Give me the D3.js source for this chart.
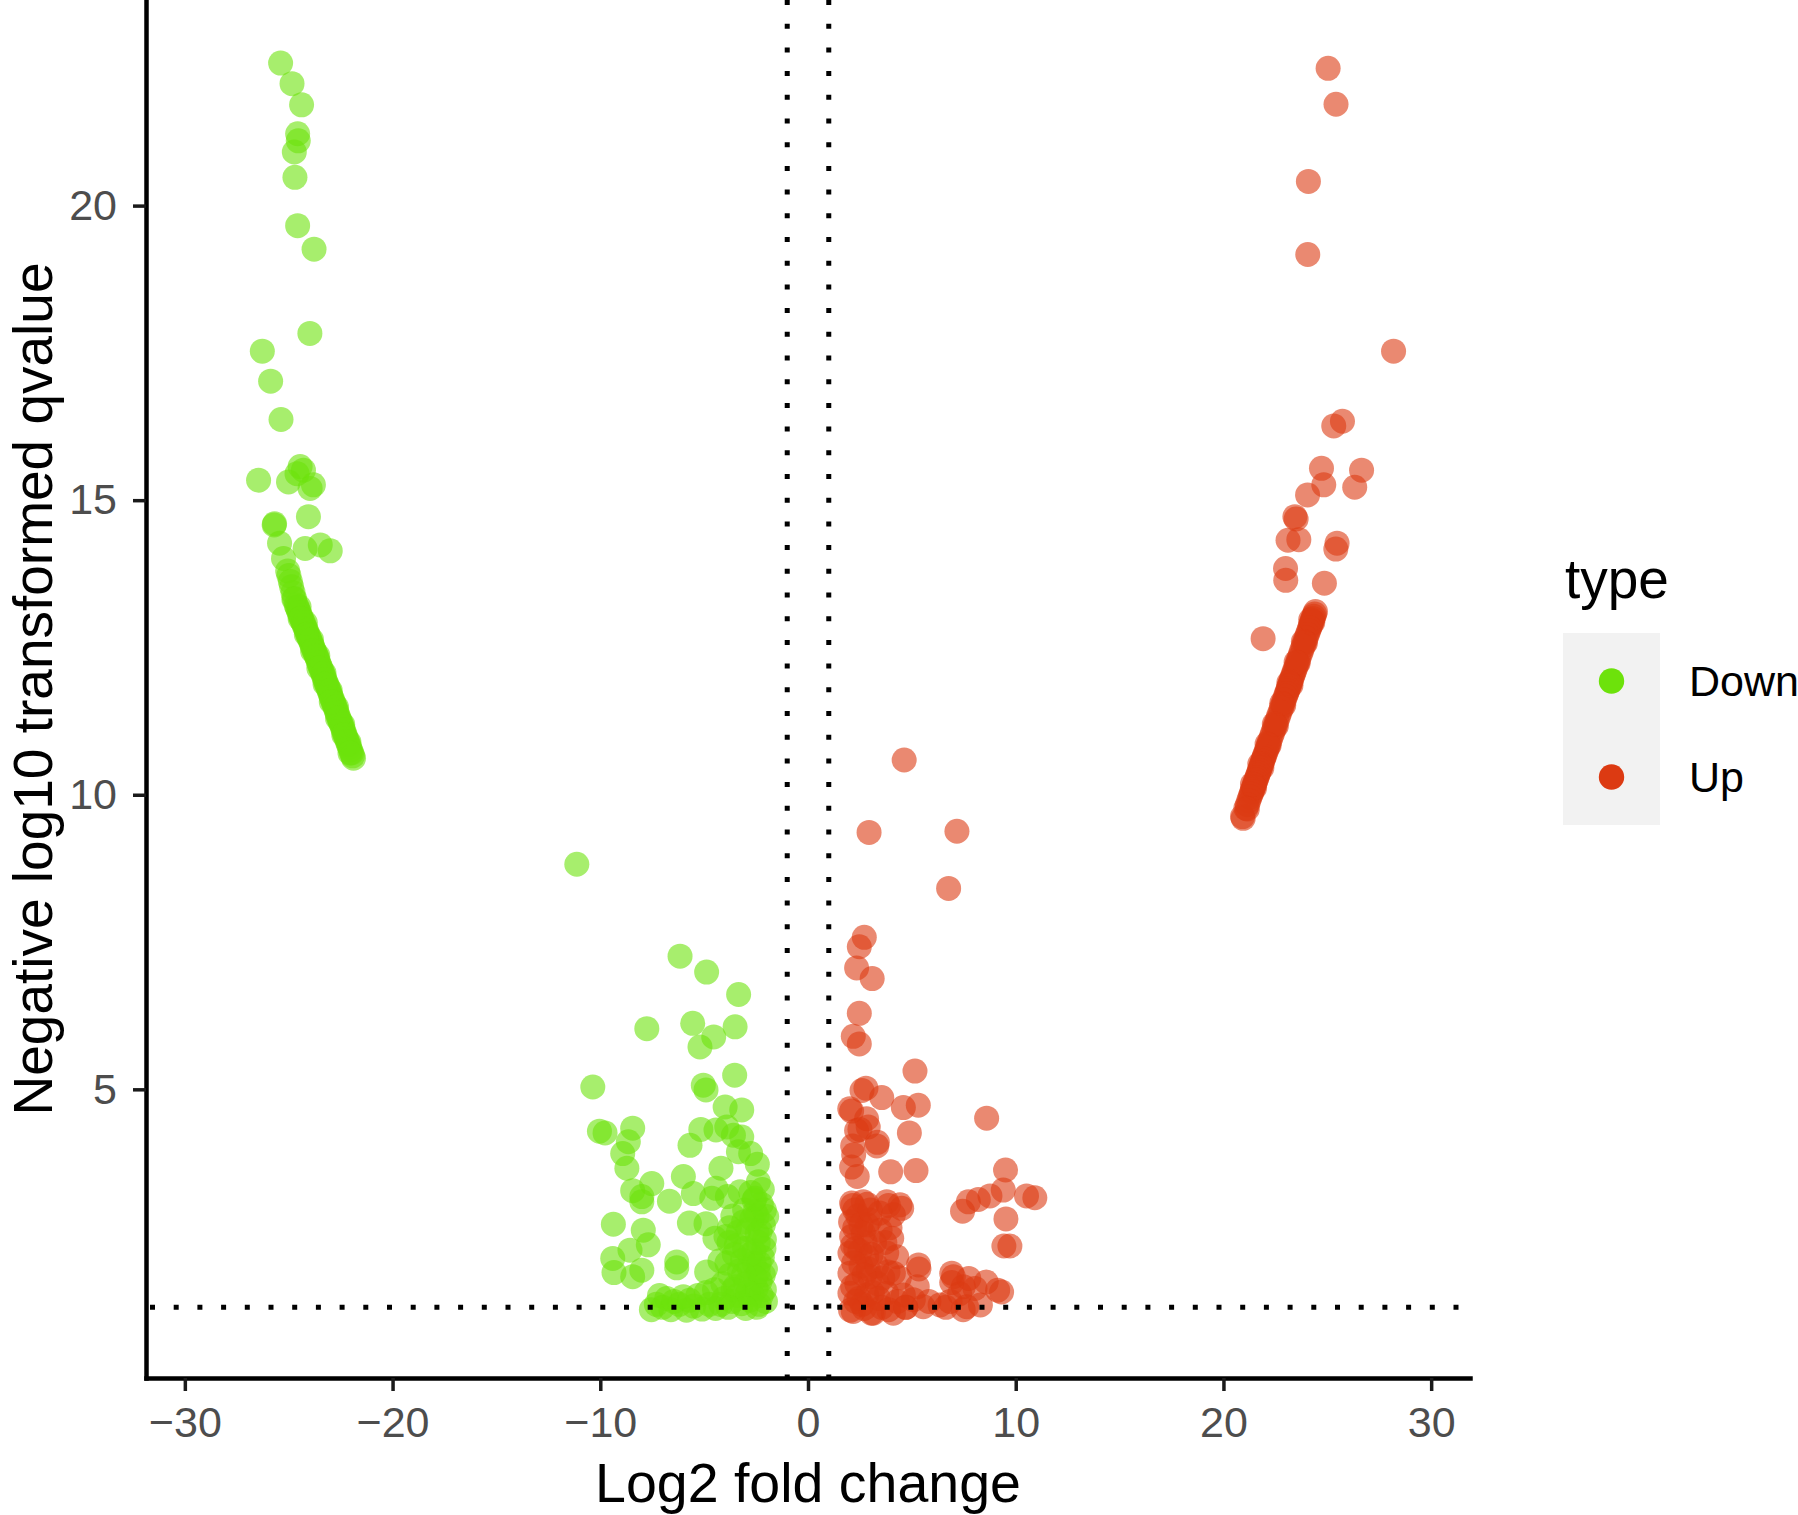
<!DOCTYPE html>
<html>
<head>
<meta charset="utf-8">
<script src="https://cdn.jsdelivr.net/npm/d3@7"></script>
<style>
  body { margin: 0; background: #fff; }
  text { font-family: "Liberation Sans", Arial, sans-serif; }
</style>
</head>
<body>
<script>
// log2 fold change / -log10 qvalue
var downScatter = [
  [-25.39,22.42],[-24.84,22.07],[-24.38,21.71],[-24.57,21.22],[-24.54,21.10],[-24.73,20.91],[-24.70,20.48],
  [-24.57,19.66],[-23.78,19.26],[-23.98,17.83],[-26.27,17.53],[-25.87,17.02],[-25.37,16.37],
  [-26.45,15.34],[-25.01,15.31],[-24.45,15.57],[-24.29,15.51],[-24.60,15.45],[-23.81,15.26],[-23.97,15.20],
  [-24.05,14.72],[-25.70,14.58],[-25.68,14.60],[-25.44,14.27],[-24.21,14.18],[-23.48,14.24],[-23.00,14.14],[-25.25,14.01],
  [-11.13,8.82],[-6.16,7.26],[-4.88,6.99],[-3.34,6.61],[-7.76,6.03],[-5.55,6.12],[-4.54,5.89],[-5.20,5.72],
  [-3.51,6.06],[-3.53,5.24],[-10.36,5.04],[-5.04,5.07],[-4.91,4.99],[-3.99,4.70],[-3.19,4.65],[-10.04,4.29],
  [-9.77,4.26],[-8.44,4.34],[-8.65,4.11],[-8.92,3.91],[-8.72,3.66],[-5.68,4.05],[-5.16,4.32],[-4.43,4.31],
  [-3.91,4.36],[-3.59,4.22],[-3.19,4.19],[-3.35,3.94],[-2.76,3.91],[-2.44,3.73],[-4.19,3.66],[-6.00,3.52],
  [-2.39,3.43],[-7.52,3.40],[-8.44,3.28],[-8.00,3.18],[-8.00,3.09],[-6.67,3.10],[-5.52,3.23],[-4.43,3.32],
  [-4.63,3.15],[-3.88,3.18],[-3.27,3.26],[-2.60,3.12],[-1.99,2.84],[-9.37,2.71],[-5.71,2.73],[-4.91,2.72],
  [-4.48,2.47],[-7.93,2.61],[-7.69,2.36],[-8.57,2.27],[-9.40,2.13],[-9.34,1.89],[-8.44,1.82],[-8.00,1.93],
  [-6.32,2.07],[-6.32,1.97],[-4.88,1.90],[-4.24,2.09],
  [-3.62,2.85],[-3.05,2.95],[-2.55,2.92],[-2.15,2.70],[-2.10,2.45],[-2.45,2.55],[-2.90,2.62],[-3.35,2.58],
  [-3.80,2.40],[-3.55,2.20],[-3.05,2.30],[-2.60,2.25],[-2.20,2.15],[-2.05,1.95],[-2.40,1.90],[-2.85,1.98],
  [-3.30,1.92],[-3.75,1.85],[-4.10,1.70],[-3.50,1.65],[-3.00,1.70],[-2.50,1.62],[-2.10,1.60],[-2.05,1.40],
  [-2.35,1.35],[-2.80,1.42],[-3.20,1.36],[-3.65,1.40],[-4.05,1.45],[-2.25,3.05],[-2.75,3.25],[-2.12,2.30],
  [-2.60,2.05],[-3.15,2.10],[-2.30,1.75],[-2.70,1.52],[-3.40,1.50],[-3.90,2.05],[-2.45,2.85],[-2.20,3.30],[-3.78,2.65],
  [-2.30,2.60],[-2.70,2.80],[-3.10,2.75],[-2.35,2.05],[-2.80,2.20],[-3.45,2.35],[-2.15,1.85],[-2.55,1.80],
  [-3.10,1.85],[-2.25,1.50],[-2.90,1.55],[-3.60,1.60],[-2.45,1.30],[-3.00,1.28],[-3.85,1.30],[-2.10,2.95],
  [-2.55,3.15],[-3.95,2.50],[-4.20,1.35],[-2.40,2.40],
  [-7.54,1.26],[-7.15,1.50],[-7.00,1.30],[-6.60,1.26],[-6.20,1.35],[-5.85,1.25],[-5.50,1.32],[-5.10,1.27],
  [-4.75,1.35],[-4.45,1.28],[-6.80,1.45],[-6.00,1.48],[-5.30,1.50],[-4.90,1.55],[-4.50,1.60],[-7.30,1.35],
  [-6.45,1.40],[-5.70,1.42]
];

var downBand = [
  [-25.05,13.80],[-24.99,13.72],[-24.92,13.62],[-24.86,13.53],[-24.79,13.43],[-24.72,13.33],[-24.64,13.22],
  [-24.59,13.18],[-24.54,13.13],[-24.49,13.09],[-24.44,13.04],[-24.39,13.00],[-24.34,12.95],[-24.29,12.91],
  [-24.24,12.86],[-24.19,12.82],[-24.14,12.78],[-24.09,12.73],[-24.04,12.69],[-23.99,12.64],[-23.94,12.60],
  [-23.89,12.55],[-23.84,12.51],[-23.79,12.46],[-23.74,12.42],[-23.69,12.37],[-23.65,12.34],
  [-23.60,12.29],[-23.55,12.24],[-23.50,12.19],[-23.45,12.15],[-23.40,12.10],[-23.35,12.05],[-23.30,12.00],
  [-23.25,11.95],[-23.20,11.90],[-23.15,11.86],[-23.10,11.81],[-23.05,11.76],[-23.00,11.71],[-22.95,11.66],
  [-22.90,11.62],[-22.85,11.57],[-22.81,11.53],[-22.77,11.49],
  [-22.72,11.44],[-22.67,11.39],[-22.62,11.34],[-22.57,11.29],[-22.52,11.24],[-22.47,11.20],[-22.42,11.15],
  [-22.37,11.10],[-22.32,11.05],[-22.27,11.00],[-22.22,10.95],[-22.17,10.90],[-22.12,10.85],[-22.07,10.81],
  [-22.02,10.76],[-21.97,10.71],[-21.92,10.66],[-21.88,10.62],
  [-24.50,13.19],[-24.20,12.92],[-23.90,12.63],[-23.60,12.36],[-23.30,12.06],[-23.00,11.77],[-22.70,11.49],
  [-22.40,11.19],[-22.10,10.89],[-24.75,13.32],[-24.45,12.99],[-24.15,12.72],[-23.85,12.44],[-23.55,12.15],
  [-23.25,11.88],[-22.95,11.58],[-22.65,11.30],[-22.35,11.02],[-22.05,10.71]
];

var upScatter = [
  [25.04,22.33],[25.42,21.72],[24.09,20.41],[24.06,19.17],[28.19,17.53],[25.73,16.34],[25.31,16.26],
  [24.72,15.54],[26.65,15.51],[24.83,15.26],[26.32,15.22],[24.05,15.09],[23.44,14.72],[23.50,14.68],
  [23.11,14.32],[23.63,14.33],[25.47,14.27],[25.41,14.17],[22.99,13.84],[23.00,13.64],[24.86,13.59],[21.91,12.65],
  [4.63,10.59],[2.94,9.36],[7.17,9.38],[6.77,8.41],[2.71,7.58],[2.47,7.42],[2.34,7.06],[3.09,6.88],
  [2.47,6.29],[2.18,5.90],[2.47,5.77],[5.15,5.31],[2.79,5.02],[3.55,4.86],[2.60,4.98],[4.59,4.69],
  [5.31,4.73],[2.10,4.63],[2.82,4.50],[8.60,4.51],[2.34,4.30],[2.90,4.36],[4.88,4.26],[2.15,4.04],
  [3.31,4.04],[2.20,3.89],[2.10,3.68],[2.37,3.52],[3.98,3.60],[5.20,3.62],[9.51,3.63],[2.15,3.03],
  [2.84,3.05],[3.87,3.03],[4.51,2.98],[9.40,3.29],[8.76,3.19],[8.20,3.13],[7.72,3.09],[7.44,2.93],
  [10.52,3.19],[10.92,3.16],[9.53,2.80],[9.43,2.34],[9.72,2.34],[5.34,1.95],[6.92,1.72],[8.04,1.62],
  [9.32,1.56],[7.30,1.53],[2.01,4.67],[3.34,4.10],[2.50,4.32],
  [2.10,3.07],[2.66,3.09],[3.79,3.09],[4.43,3.04],[4.11,2.87],[2.99,2.78],[2.10,2.50],[2.66,2.56],
  [3.47,2.61],[4.03,2.47],[2.02,2.22],[2.83,2.16],[3.79,2.22],[4.27,2.16],[2.02,1.88],[2.99,1.82],
  [4.11,1.88],[2.02,1.54],[2.83,1.51],[3.79,1.54],[4.59,1.51],[2.18,1.23],[3.14,1.20],[4.11,1.20],
  [5.07,1.43],[5.55,1.31],[6.36,1.34],[7.00,1.82],[7.48,1.65],[6.84,1.40],[7.64,1.31],
  [2.40,2.85],[2.30,2.30],[2.55,2.00],[2.35,1.70],[2.60,1.35],[3.20,2.40],[3.30,2.00],[3.10,1.55],
  [3.55,1.30],[2.25,2.65],[2.75,2.40],[2.90,1.95],[3.60,1.80],[2.45,1.45],[2.85,2.70],[3.95,2.65],
  [2.05,2.75],[4.40,1.80],[4.70,1.30],[3.45,2.90],
  [2.25,2.95],[2.55,2.70],[3.00,2.95],[2.15,2.35],[2.50,2.25],[3.05,2.20],[2.20,2.05],[2.70,1.85],
  [3.35,1.70],[2.15,1.65],[2.70,1.28],[3.40,1.45],[2.30,1.40],[3.70,2.40],[2.05,1.25],[4.30,1.40],[3.85,1.90],
  [4.71,1.30],[5.82,1.40],[6.64,1.30],[7.47,1.26],[8.30,1.34],[9.13,1.59],[7.74,1.79],[8.58,1.73],
  [6.92,1.88],[5.26,1.65],[3.88,1.26],[3.05,1.20],[5.32,2.02]
];

var upBand = [
  [24.43,13.11],[24.39,13.07],[24.35,13.03],[24.31,12.99],[24.27,12.95],[24.23,12.91],[24.19,12.87],
  [24.15,12.83],[24.10,12.78],[24.04,12.72],[23.98,12.66],[23.91,12.59],[23.84,12.52],[23.77,12.45],
  [23.70,12.38],[23.63,12.31],[23.56,12.24],[23.49,12.17],[23.43,12.11],[23.38,12.06],[23.33,12.01],
  [23.28,11.96],[23.24,11.92],[23.20,11.88],[23.16,11.84],[23.12,11.80],[23.08,11.76],[23.04,11.72],
  [22.99,11.67],[22.93,11.61],[22.86,11.54],[22.79,11.47],[22.72,11.40],[22.65,11.33],[22.58,11.26],
  [22.51,11.19],[22.44,11.12],[22.37,11.05],[22.30,10.98],[22.23,10.91],[22.17,10.85],[22.11,10.79],
  [22.06,10.74],[22.01,10.69],[21.97,10.65],[21.93,10.61],[21.89,10.57],[21.85,10.53],[21.81,10.49],
  [21.77,10.45],[21.73,10.41],[21.69,10.37],[21.65,10.33],[21.61,10.29],[21.57,10.25],[21.53,10.21],
  [21.49,10.17],[21.45,10.13],[21.41,10.09],[21.37,10.05],[21.33,10.01],[21.28,9.96],[21.22,9.90],
  [21.15,9.83],[21.08,9.77],[20.95,9.60],[20.92,9.63],
  [24.30,12.93],[23.95,12.58],[23.60,12.24],[23.25,11.86],[22.90,11.52],[22.55,11.17],[22.20,10.84],
  [21.85,10.46],[21.50,10.12],[21.15,9.76],[24.20,12.97],[23.85,12.60],[23.50,12.25],[23.15,11.90],
  [22.80,11.55],[22.45,11.20],[22.10,10.86],[21.75,10.52],[21.40,10.18]
];

var types = ["Down", "Up"];
var xTicks = [-30, -20, -10, 0, 10, 20, 30];
var yTicks = [5, 10, 15, 20];
var fcCut = [-1, 1];        // vertical guide lines
var qCut = [1.301];          // -log10(0.05)

var WIDTH = 1798,
    HEIGHT = 1515;

var colors = { Down: "#6de20b", Up: "#dc3a12" };

var svg = d3.select("body").append("svg")
    .attr("width", WIDTH)
    .attr("height", HEIGHT)
    .style("display", "block");

var x = d3.scaleLinear().domain([-31.87, 31.87]).range([146, 1470]);
var y = d3.scaleLinear().domain([0.10, 23.49]).range([1378, 0]);

var points = []
  .concat(downScatter.map(function(d){ return {fc: d[0], q: d[1], type: "Down"}; }))
  .concat(downBand.map(function(d){ return {fc: d[0], q: d[1], type: "Down"}; }))
  .concat(upScatter.map(function(d){ return {fc: d[0], q: d[1], type: "Up"}; }))
  .concat(upBand.map(function(d){ return {fc: d[0], q: d[1], type: "Up"}; }));

svg.append("g")
  .selectAll("circle")
  .data(points)
  .enter().append("circle")
    .attr("cx", function(d){ return x(d.fc); })
    .attr("cy", function(d){ return y(d.q); })
    .attr("r", 12.5)
    .style("fill", function(d){ return colors[d.type]; })
    .style("fill-opacity", 0.6);

// dotted cut-off lines sit on top of the points
var guides = svg.append("g")
    .style("stroke", "#000")
    .style("stroke-width", 5)
    .style("stroke-dasharray", "5,18.7");

guides.selectAll(".vline")
  .data(fcCut)
  .enter().append("line")
    .attr("class", "vline")
    .attr("x1", function(d){ return x(d); })
    .attr("x2", function(d){ return x(d); })
    .attr("y1", y.range()[1])
    .attr("y2", y.range()[0]);

guides.selectAll(".hline")
  .data(qCut)
  .enter().append("line")
    .attr("class", "hline")
    .attr("x1", x.range()[0] + 4)
    .attr("x2", x.range()[1])
    .attr("y1", function(d){ return y(d); })
    .attr("y2", function(d){ return y(d); });

// axes
var xAxis = svg.append("g")
    .attr("transform", "translate(0," + y.range()[0] + ")")
    .call(d3.axisBottom(x).tickValues(xTicks).tickFormat(d3.format("d"))
      .tickSize(13).tickSizeOuter(0).tickPadding(15));

var yAxis = svg.append("g")
    .attr("transform", "translate(" + x.range()[0] + ",0)")
    .call(d3.axisLeft(y).tickValues(yTicks).tickFormat(d3.format("d"))
      .tickSize(13).tickSizeOuter(0).tickPadding(16));

[xAxis, yAxis].forEach(function(ax){
  ax.select(".domain")
    .style("stroke", "#000")
    .style("stroke-width", 4.5)
    .style("stroke-linecap", "square");
  ax.selectAll(".tick line")
    .style("stroke", "#1a1a1a")
    .style("stroke-width", 3.5);
  ax.selectAll(".tick text")
    .style("font-family", "'Liberation Sans', Arial, sans-serif")
    .style("font-size", "43px")
    .style("fill", "#4d4d4d");
});

svg.append("text")
    .attr("x", (x.range()[0] + x.range()[1]) / 2)
    .attr("y", 1502)
    .attr("text-anchor", "middle")
    .style("font-size", "55.5px")
    .text("Log2 fold change");

svg.append("text")
    .attr("transform", "translate(52," + (y.range()[0] / 2) + ") rotate(-90)")
    .attr("text-anchor", "middle")
    .style("font-size", "55px")
    .text("Negative log10 transformed qvalue");

// legend
var legend = svg.append("g").attr("transform", "translate(1563,633)");

legend.append("text")
    .attr("x", 2)
    .attr("y", -35)
    .style("font-size", "55px")
    .text("type");

legend.append("rect")
    .attr("width", 97)
    .attr("height", 96 * types.length)
    .style("fill", "#f2f2f2");

var keys = legend.selectAll(".key")
  .data(types)
  .enter().append("g")
    .attr("class", "key")
    .attr("transform", function(d, i){ return "translate(0," + (i * 96 + 48) + ")"; });

keys.append("circle")
    .attr("cx", 48.5)
    .attr("r", 12.7)
    .style("fill", function(d){ return colors[d]; });

keys.append("text")
    .attr("x", 126)
    .attr("dy", "0.35em")
    .style("font-size", "43px")
    .text(function(d){ return d; });
</script>
</body>
</html>
